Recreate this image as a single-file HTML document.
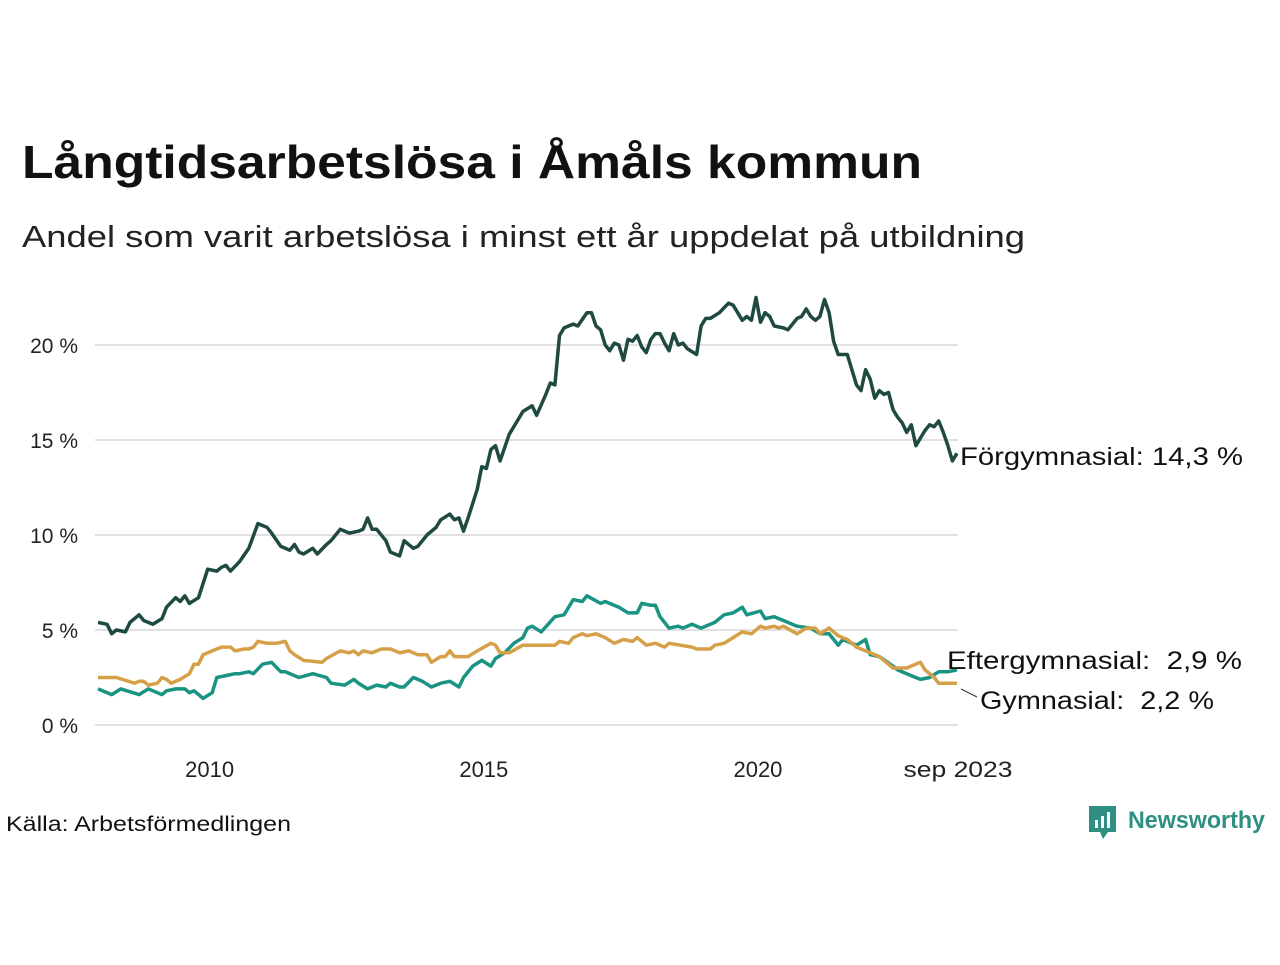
<!DOCTYPE html>
<html><head><meta charset="utf-8"><style>
body{margin:0;background:#fff;width:1280px;height:960px;overflow:hidden;font-family:"Liberation Sans","DejaVu Sans",sans-serif}
</style></head><body>
<svg width="1280" height="960" xmlns="http://www.w3.org/2000/svg">
<text x="22" y="178" font-size="46" font-weight="bold" fill="#111" textLength="900" lengthAdjust="spacingAndGlyphs">Långtidsarbetslösa i Åmåls kommun</text>
<text x="22" y="247" font-size="31" fill="#222" textLength="1003" lengthAdjust="spacingAndGlyphs">Andel som varit arbetslösa i minst ett år uppdelat på utbildning</text>
<g id="grid"></g>
<g id="xt"></g>
<g id="lines"></g>
<text x="960" y="465" font-size="25" fill="#111" textLength="283" lengthAdjust="spacingAndGlyphs">Förgymnasial: 14,3 %</text>
<text x="947" y="669" font-size="25" fill="#111" textLength="295" lengthAdjust="spacingAndGlyphs" xml:space="preserve">Eftergymnasial:  2,9 %</text>
<line x1="961" y1="689" x2="977" y2="697" stroke="#333" stroke-width="1"/>
<text x="980" y="709" font-size="25" fill="#111" textLength="234" lengthAdjust="spacingAndGlyphs" xml:space="preserve">Gymnasial:  2,2 %</text>
<text x="6" y="831" font-size="21" fill="#111" textLength="285" lengthAdjust="spacingAndGlyphs">Källa: Arbetsförmedlingen</text>
<g>
<path d="M1089 806h27v26h-8l-5 7-3-7h-11z" fill="#2f8f82"/>
<rect x="1095" y="820" width="3" height="8" fill="#fff"/><rect x="1101" y="816" width="3" height="12" fill="#fff"/><rect x="1107" y="812" width="3" height="16" fill="#fff"/>
<text x="1128" y="828" font-size="24" font-weight="bold" fill="#2f8f82" textLength="137" lengthAdjust="spacingAndGlyphs">Newsworthy</text>
</g>
</svg>
<script>
const yTicks=[0,5,10,15,20];
const yTickLabels=["0 %","5 %","10 %","15 %","20 %"];
const xTickMonths=[24,84,144,188];
const xTickLabels=["2010","2015","2020","sep 2023"];
const forgM=[0,2,3,4,6,7,9,10,12,14,15,17,18,19,20,22,24,26,27,28,29,31,33,35,37,38,40,42,43,44,45,47,48,50,51,53,55,57,58,59,60,61,63,64,66,67,69,70,72,74,75,77,78,79,80,81,83,84,85,86,87,88,90,92,93,95,96,98,99,100,101,102,104,105,107,108,109,110,111,112,113,114,115,116,117,118,119,120,121,122,123,124,125,126,127,128,129,131,132,133,134,136,138,139,140,141,142,143,144,145,146,147,148,150,151,153,154,155,156,157,158,159,160,161,162,164,165,166,167,168,169,170,171,172,173,174,175,176,177,178,179,180,181,182,183,184,185,186,187,188];
const forgV=[5.4,5.3,4.8,5.0,4.9,5.4,5.8,5.5,5.3,5.6,6.2,6.7,6.5,6.8,6.4,6.7,8.2,8.1,8.3,8.4,8.1,8.6,9.3,10.6,10.4,10.1,9.4,9.2,9.5,9.1,9.0,9.3,9.0,9.5,9.7,10.3,10.1,10.2,10.3,10.9,10.3,10.3,9.7,9.1,8.9,9.7,9.3,9.4,10.0,10.4,10.8,11.1,10.8,10.9,10.2,10.9,12.4,13.6,13.5,14.5,14.7,13.9,15.3,16.1,16.5,16.8,16.3,17.4,18.0,17.9,20.5,20.9,21.1,21.0,21.7,21.7,21.0,20.8,20.0,19.7,20.1,20.0,19.2,20.3,20.2,20.5,19.9,19.6,20.3,20.6,20.6,20.1,19.7,20.6,20.0,20.1,19.8,19.5,21.0,21.4,21.4,21.7,22.2,22.1,21.7,21.3,21.5,21.3,22.5,21.2,21.7,21.5,21.0,20.9,20.8,21.4,21.5,21.9,21.5,21.3,21.5,22.4,21.7,20.2,19.5,19.5,18.7,17.9,17.6,18.7,18.2,17.2,17.6,17.4,17.5,16.6,16.2,15.9,15.4,15.8,14.7,15.1,15.5,15.8,15.7,16.0,15.4,14.7,13.9,14.3];
const gymM=[0,2,3,4,8,9,10,11,13,14,15,16,18,20,21,22,23,25,27,29,30,32,33,34,35,37,39,41,42,43,45,49,50,53,55,56,57,58,60,62,64,66,68,70,72,73,75,76,77,78,81,83,86,87,88,90,93,96,100,101,103,104,106,107,109,111,113,115,117,118,120,122,124,125,130,131,134,135,137,139,141,143,145,146,148,149,150,153,155,157,158,160,162,164,166,169,171,173,174,177,180,181,183,184,187,188];
const gymV=[2.5,2.5,2.5,2.5,2.2,2.3,2.3,2.1,2.2,2.5,2.4,2.2,2.4,2.7,3.2,3.2,3.7,3.9,4.1,4.1,3.9,4.0,4.0,4.1,4.4,4.3,4.3,4.4,3.9,3.7,3.4,3.3,3.5,3.9,3.8,3.9,3.7,3.9,3.8,4.0,4.0,3.8,3.9,3.7,3.7,3.3,3.6,3.6,3.9,3.6,3.6,3.9,4.3,4.2,3.8,3.8,4.2,4.2,4.2,4.4,4.3,4.6,4.8,4.7,4.8,4.6,4.3,4.5,4.4,4.6,4.2,4.3,4.1,4.3,4.1,4.0,4.0,4.2,4.3,4.6,4.9,4.8,5.2,5.1,5.2,5.1,5.2,4.8,5.1,5.1,4.8,5.1,4.7,4.5,4.1,3.8,3.6,3.2,3.0,3.0,3.3,2.9,2.5,2.2,2.2,2.2];
const eftM=[0,3,5,9,11,14,15,17,19,20,21,23,25,26,28,30,31,33,34,36,38,40,41,44,47,50,51,54,56,57,59,61,63,64,66,67,69,71,73,75,77,79,80,82,84,86,87,89,91,93,94,95,97,100,102,104,106,107,110,111,114,116,118,119,121,122,123,125,127,128,130,132,135,137,139,141,142,145,146,148,150,153,156,158,160,162,163,166,168,169,171,174,175,177,180,182,184,186,188];
const eftV=[1.9,1.6,1.9,1.6,1.9,1.6,1.8,1.9,1.9,1.7,1.8,1.4,1.7,2.5,2.6,2.7,2.7,2.8,2.7,3.2,3.3,2.8,2.8,2.5,2.7,2.5,2.2,2.1,2.4,2.2,1.9,2.1,2.0,2.2,2.0,2.0,2.5,2.3,2.0,2.2,2.3,2.0,2.5,3.1,3.4,3.1,3.5,3.8,4.3,4.6,5.1,5.2,4.9,5.7,5.8,6.6,6.5,6.8,6.4,6.5,6.2,5.9,5.9,6.4,6.3,6.3,5.7,5.1,5.2,5.1,5.3,5.1,5.4,5.8,5.9,6.2,5.8,6.0,5.6,5.7,5.5,5.2,5.1,4.8,4.8,4.2,4.5,4.2,4.5,3.7,3.6,3.1,2.9,2.7,2.4,2.5,2.8,2.8,2.9];
const NS="http://www.w3.org/2000/svg";
const x0=98,x1=957,y0=725,pxPer=19;
function xs(m){return x0+(x1-x0)*m/188;}
function ys(v){return y0-v*pxPer;}
const grid=document.getElementById('grid');
yTicks.forEach((t,i)=>{
 const l=document.createElementNS(NS,'line');
 l.setAttribute('x1',95);l.setAttribute('x2',958);l.setAttribute('y1',ys(t));l.setAttribute('y2',ys(t));
 l.setAttribute('stroke','#e2e0e4');l.setAttribute('stroke-width','2');
 
 
 grid.appendChild(l);
 const tx=document.createElementNS(NS,'text');
 tx.setAttribute('x',78);tx.setAttribute('y',ys(t)+8);tx.setAttribute('text-anchor','end');tx.setAttribute('font-size','21');tx.setAttribute('fill','#222');
 tx.textContent=yTickLabels[i];
 
 
 grid.appendChild(tx);
});
const xt=document.getElementById('xt');
xTickMonths.forEach((m,i)=>{
 const tx=document.createElementNS(NS,'text');
 tx.setAttribute('x',xs(m)+(i==3?1:2));tx.setAttribute('y',777);tx.setAttribute('text-anchor','middle');tx.setAttribute('font-size','22');tx.setAttribute('fill','#222');
 if(i==3){tx.setAttribute('textLength','109');tx.setAttribute('lengthAdjust','spacingAndGlyphs');}
 tx.textContent=xTickLabels[i];
 
 
 xt.appendChild(tx);
});
const g=document.getElementById('lines');
function draw(M,V,color,name){
 const p=document.createElementNS(NS,'polyline');
 p.setAttribute('points',M.map((m,i)=>xs(m).toFixed(1)+','+ys(V[i]).toFixed(1)).join(' '));
 p.setAttribute('fill','none');p.setAttribute('stroke',color);p.setAttribute('stroke-width','3.5');p.setAttribute('stroke-linejoin','round');
 
 
 g.appendChild(p);
}
draw(eftM,eftV,'#1a9482','line-eftergymnasial');
draw(gymM,gymV,'#d5a047','line-gymnasial');
draw(forgM,forgV,'#1f4a42','line-forgymnasial');
</script>
</body></html>
